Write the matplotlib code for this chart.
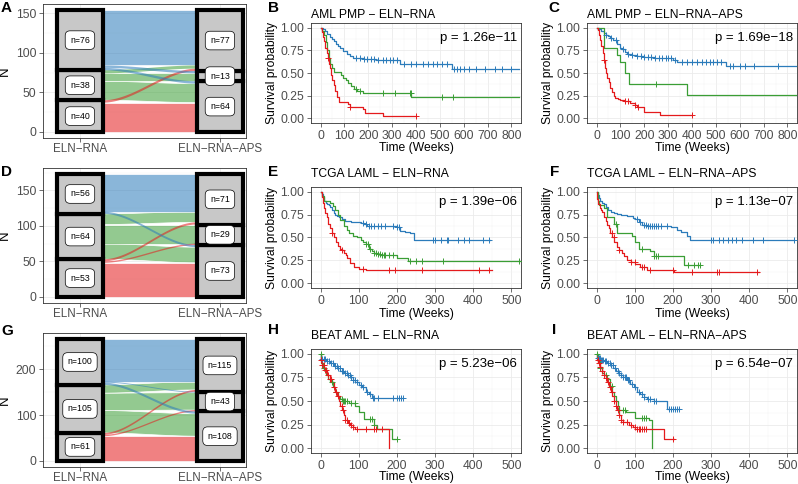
import numpy as np
import matplotlib
matplotlib.use("Agg")
import matplotlib.pyplot as plt
from matplotlib.patches import Rectangle, Polygon

plt.rcParams['font.family'] = ['Liberation Sans', 'DejaVu Sans']

# ---------------- data ----------------
groups = ["Adverse", "Intermediate", "Favorable"]          # bottom-to-top stacking
group_colors = {"Adverse": "#E41A1C", "Intermediate": "#3A9E35", "Favorable": "#2B7BBA"}
alluvial_xlabels = ["ELN\u2212RNA", "ELN\u2212RNA\u2212APS"]

# flows[i][j]: patients from ELN-RNA group i to ELN-RNA-APS group j (order as in `groups`)
flows_A = [[37, 0, 3], [24, 10, 4], [3, 3, 70]]
flows_D = [[48, 2, 3], [22, 27, 15], [3, 0, 53]]
flows_G = [[54, 3, 4], [49, 38, 18], [5, 2, 93]]

km_titles = ["AML PMP \u2212 ELN\u2212RNA", "AML PMP \u2212 ELN\u2212RNA\u2212APS",
             "TCGA LAML \u2212 ELN\u2212RNA", "TCGA LAML \u2212 ELN\u2212RNA\u2212APS",
             "BEAT AML \u2212 ELN\u2212RNA", "BEAT AML \u2212 ELN\u2212RNA\u2212APS"]
pvalues = ["p = 1.26e\u221211", "p = 1.69e\u221218", "p = 1.39e\u221206",
           "p = 1.13e\u221207", "p = 5.23e\u221206", "p = 6.54e\u221207"]
surv_ticks = [0, 0.25, 0.5, 0.75, 1.0]
surv_ticklabels = ["0.00", "0.25", "0.50", "0.75", "1.00"]
time_ticks_row1 = [0, 100, 200, 300, 400, 500, 600, 700, 800]
time_ticks_rows23 = [0, 100, 200, 300, 400, 500]

# each curve: (step times, survival, end time, censor times)
# --- B: AML PMP ELN-RNA
B_fav = ([0, 10, 20, 28, 38, 48, 55, 65, 75, 83, 95, 110, 125, 138, 180, 234, 331, 552],
         [1.0, .98, .96, .93, .90, .87, .85, .82, .80, .78, .74, .71, .69, .665, .655, .645, .595, .54],
         830, [150, 165, 180, 195, 210, 225, 240, 260, 275, 290, 305, 320, 350, 380, 400, 430, 450, 470,
               490, 510, 530, 560, 570, 585, 600, 620, 650, 690, 730, 760, 800])
B_int = ([0, 8, 15, 22, 28, 35, 41, 48, 55, 85, 95, 105, 115, 128, 140, 152, 179, 379],
         [1.0, .96, .92, .84, .75, .67, .60, .55, .51, .48, .45, .42, .39, .36, .32, .30, .28, .235],
         830, [150, 165, 262, 310, 375, 378, 510, 555])
B_adv = ([0, 5, 10, 15, 20, 25, 30, 35, 40, 45, 50, 55, 62, 70, 76, 117, 124, 179, 186, 262],
         [1.0, .95, .90, .85, .78, .72, .67, .60, .55, .48, .42, .37, .30, .24, .18, .155, .13, .10, .065, .03],
         400, [30, 125, 400])
# --- C: AML PMP ELN-RNA-APS
C_fav = ([0, 10, 20, 30, 40, 50, 58, 70, 86, 100, 107, 118, 128, 150, 170, 200, 239, 322, 336, 544],
         [1.0, .98, .96, .94, .92, .91, .89, .86, .82, .78, .76, .73, .71, .70, .69, .68, .665, .645, .62, .575],
         840, [40, 60, 80, 110, 130, 150, 170, 185, 200, 215, 230, 245, 260, 275, 290, 300, 310, 330, 360,
               380, 400, 420, 440, 460, 475, 490, 505, 520, 560, 570, 600, 620, 660, 760])
C_int = ([0, 30, 86, 100, 120, 135, 377],
         [1.0, .77, .70, .62, .50, .38, .26],
         840, [250])
C_adv = ([0, 5, 10, 15, 20, 25, 30, 35, 40, 45, 51, 58, 65, 72, 79, 90, 100, 115, 141, 160, 170, 197, 266],
         [1.0, .97, .92, .86, .80, .72, .64, .56, .50, .45, .40, .34, .29, .25, .22, .21, .20, .19, .17, .15, .13, .07, .04],
         400, [30, 120, 130, 160, 175, 400])
# --- E: TCGA LAML ELN-RNA
E_fav = ([0, 3, 6, 9, 13, 17, 22, 26, 30, 35, 39, 44, 48, 56, 65, 80, 105, 114, 122, 200, 209, 222, 235, 244],
         [1.0, .97, .94, .90, .88, .87, .85, .83, .80, .77, .75, .73, .72, .70, .68, .67, .66, .645, .63, .61, .57, .56, .55, .47],
         445, [110, 118, 128, 132, 140, 150, 158, 170, 190, 200, 205, 295, 300, 315, 330, 335, 360, 375, 390, 425, 440])
E_int = ([0, 4, 8, 26, 32, 39, 45, 52, 61, 68, 74, 85, 96, 105, 112, 118, 126, 135, 140, 150, 157, 200, 228],
         [1.0, .95, .90, .88, .84, .80, .74, .69, .62, .58, .55, .52, .50, .47, .45, .43, .38, .35, .33, .32, .31, .28, .245],
         522, [120, 125, 130, 140, 145, 150, 155, 160, 165, 170, 180, 190, 235, 250, 265, 320, 520])
E_adv = ([0, 3, 6, 9, 12, 16, 20, 25, 30, 35, 40, 45, 50, 55, 61, 66, 70, 78, 87, 100, 120],
         [1.0, .94, .88, .82, .77, .72, .65, .60, .55, .50, .45, .41, .38, .36, .33, .31, .28, .22, .18, .16, .145],
         450, [30, 55, 110, 180, 195, 265, 415, 440])
# --- F: TCGA LAML ELN-RNA-APS
F_fav = ([0, 3, 6, 10, 15, 19, 25, 30, 37, 45, 54, 65, 80, 95, 102, 110, 120, 133, 194, 210, 220, 237, 246],
         [1.0, .96, .93, .90, .88, .86, .83, .80, .78, .77, .76, .74, .73, .71, .70, .67, .64, .62, .61, .58, .56, .52, .475],
         517, [105, 115, 125, 130, 135, 140, 145, 150, 155, 160, 170, 185, 300, 305, 320, 330, 345, 355, 365,
               380, 410, 435, 517])
F_int = ([0, 3, 6, 19, 28, 45, 54, 93, 100, 111, 141, 150, 229],
         [1.0, .90, .85, .82, .72, .65, .55, .52, .45, .38, .35, .30, .20],
         272, [50, 120, 150, 155, 160, 240, 255, 265, 272])
F_adv = ([0, 2, 5, 8, 12, 15, 20, 24, 28, 32, 36, 41, 47, 54, 60, 67, 73, 80, 90, 102, 115, 133, 202],
         [1.0, .92, .86, .82, .80, .78, .72, .68, .64, .60, .55, .50, .45, .40, .36, .33, .30, .26, .23, .21, .18, .15, .125],
         425, [40, 45, 60, 90, 100, 120, 125, 140, 200, 250, 315, 320, 420])
# --- H: BEAT AML ELN-RNA
H_fav = ([0, 1, 15, 26, 35, 43, 52, 61, 70, 78, 85, 91, 100, 109, 118, 126, 135],
         [1.0, .94, .92, .90, .87, .85, .82, .80, .77, .75, .72, .70, .67, .65, .60, .57, .53],
         217, [5, 8, 12, 18, 22, 28, 32, 38, 42, 46, 50, 55, 58, 63, 68, 72, 76, 80, 86, 90, 95, 105, 112,
               122, 130, 138, 140, 150, 190, 200, 205, 210, 217])
H_int = ([0, 2, 6, 13, 20, 26, 32, 39, 45, 52, 60, 74, 91, 100, 113, 139, 148, 187],
         [1.0, .90, .85, .77, .73, .70, .65, .60, .55, .52, .50, .48, .45, .38, .31, .25, .20, .10],
         200, [0, 10, 30, 40, 55, 60, 62, 65, 70, 80, 90, 130, 135, 140, 200])
H_adv = ([0, 1, 5, 10, 17, 24, 30, 35, 39, 44, 48, 52, 57, 61, 65, 72, 78, 85, 91, 178],
         [1.0, .93, .88, .83, .77, .73, .70, .65, .60, .55, .50, .45, .40, .35, .30, .27, .25, .22, .20, 0.0],
         178, [2, 5, 8, 12, 15, 20, 25, 28, 35, 40, 45, 55, 60, 65, 70, 75, 80, 85, 95, 120, 140, 145, 160])
# --- I: BEAT AML ELN-RNA-APS
I_fav = ([0, 1, 10, 19, 28, 37, 44, 50, 57, 63, 70, 80, 88, 97, 106, 115, 123, 132, 150, 184],
         [1.0, .95, .93, .92, .90, .88, .85, .82, .80, .78, .75, .72, .68, .65, .60, .57, .54, .52, .50, .42],
         215, [3, 6, 9, 12, 15, 18, 22, 25, 30, 34, 38, 42, 48, 55, 60, 65, 70, 75, 78, 82, 86, 92, 100, 110,
               120, 125, 135, 140, 150, 155, 190, 195, 200, 205, 210, 215])
I_int = ([0, 3, 8, 14, 20, 28, 35, 41, 46, 50, 55, 58, 76, 102, 137, 145],
         [1.0, .92, .85, .80, .77, .73, .66, .60, .55, .50, .45, .40, .38, .32, .30, 0.0],
         145, [0, 10, 25, 40, 60, 70, 75, 120, 125, 130])
I_adv = ([0, 1, 5, 10, 15, 19, 24, 28, 32, 37, 41, 45, 50, 54, 58, 63, 70, 84, 95, 102, 176],
         [1.0, .93, .90, .86, .82, .78, .74, .70, .65, .60, .55, .50, .45, .40, .35, .30, .28, .25, .22, .20, .10],
         202, [3, 6, 10, 15, 20, 25, 30, 35, 40, 45, 50, 55, 60, 65, 70, 80, 90, 100, 105, 110, 115, 120, 125, 130, 200])

# ---------------- layout helpers ----------------
W, H = 798, 484
fig = plt.figure(figsize=(W / 100, H / 100), dpi=100)
TICK_COL = "#4D4D4D"
GRID_MAJ = "#EBEBEB"
GRID_MIN = "#F3F3F3"
FS = 8.7


def add_ax(x0, y0, x1, y1):
    return fig.add_axes([x0 / W, 1 - y1 / H, (x1 - x0) / W, (y1 - y0) / H])


def ftext(x, y, s, **kw):
    fig.text(x / W, 1 - y / H, s, **kw)


def style_frame(ax):
    for sp in ax.spines.values():
        sp.set_color("#333333")
        sp.set_linewidth(0.6)
    ax.tick_params(which="major", length=2.75, width=0.5, color="#333333",
                   labelsize=FS, labelcolor=TICK_COL, pad=2)
    ax.tick_params(which="minor", length=0)
    ax.set_axisbelow(True)


def draw_alluvial(ax, flows, yticks, yminor):
    F = np.array(flows)
    left = F.sum(axis=1)
    right = F.sum(axis=0)
    total = left.sum()
    w = 1 / 3
    lcum = np.concatenate([[0], np.cumsum(left)])
    rcum = np.concatenate([[0], np.cumsum(right)])
    s = np.linspace(0, 1, 80)
    sm = s * s * (3 - 2 * s)
    xa, xb = 1 + w / 2, 2 - w / 2
    xs = xa + s * (xb - xa)
    polys_big, polys_thin = [], []
    for i in range(3):
        for j in range(3):
            n = F[i, j]
            if n == 0:
                continue
            yl0 = lcum[i] + F[i, :j].sum()
            yr0 = rcum[j] + F[:i, j].sum()
            lo = yl0 + (yr0 - yl0) * sm
            hi = lo + n
            poly = np.concatenate([np.column_stack([xs, lo]),
                                   np.column_stack([xs[::-1], hi[::-1]])])
            fc = matplotlib.colors.to_rgba(group_colors[groups[i]], 0.55)
            (polys_big if n >= 8 else polys_thin).append((poly, fc))
    for poly, fc in polys_big:
        ax.add_patch(Polygon(poly, closed=True, facecolor=fc, edgecolor="white",
                             lw=0.5, zorder=2))
    for poly, fc in polys_thin:
        ax.add_patch(Polygon(poly, closed=True, facecolor=fc, edgecolor="none", zorder=2.5))
    for x, counts, cum in [(1, left, lcum), (2, right, rcum)]:
        for k in range(3):
            ax.add_patch(Rectangle((x - w / 2, cum[k]), w, counts[k], facecolor="#C8C8C8",
                                   edgecolor="black", lw=3, zorder=3))
        for k in range(3):
            ax.text(x, cum[k] + counts[k] / 2, f"n={counts[k]}", ha="center", va="center",
                    fontsize=6.3, zorder=5,
                    bbox=dict(boxstyle="round,pad=0.55,rounding_size=0.55", fc="white",
                              ec="black", lw=0.5))
    ax.set_xlim(0.736, 2.186)
    ax.set_ylim(-0.05 * total, 1.05 * total)
    ax.set_xticks([1, 2])
    ax.set_xticklabels(alluvial_xlabels)
    ax.set_yticks(yticks)
    ax.set_yticks(yminor, minor=True)
    ax.grid(which="major", color=GRID_MAJ, lw=0.6)
    ax.grid(which="minor", axis="y", color=GRID_MIN, lw=0.35)
    style_frame(ax)
    ax.tick_params(axis="x", which="major", labelsize=8.4, pad=1.2)


def draw_km(ax, curves, xticks, xlim):
    for (t, sv, end, cens), g in zip(curves, ["Favorable", "Intermediate", "Adverse"]):
        col = group_colors[g]
        x = list(t) + [end]
        y = list(sv) + [sv[-1]]
        ax.step(x, y, where="post", color=col, lw=0.9, zorder=3)
        ta = np.array(t)
        sa = np.array(sv)
        idx = np.searchsorted(ta, np.array(cens), side="right") - 1
        ax.plot(cens, sa[idx], ls="none", marker="+", ms=4.5, mew=0.7, color=col, zorder=4)
    ax.set_xlim(*xlim)
    ax.set_ylim(-0.05, 1.05)
    ax.set_xticks(xticks)
    ax.set_xticklabels([str(v) for v in xticks])
    step = xticks[1] - xticks[0]
    ax.set_xticks([v + step / 2 for v in xticks if v + step / 2 < xlim[1]], minor=True)
    ax.set_yticks(surv_ticks)
    ax.set_yticklabels(surv_ticklabels)
    ax.set_yticks([0.125, 0.375, 0.625, 0.875], minor=True)
    ax.grid(which="major", color=GRID_MAJ, lw=0.6)
    ax.grid(which="minor", color=GRID_MIN, lw=0.35)
    style_frame(ax)


# ---------------- alluvial panels ----------------
rows_allu = [(4, 138), (168, 303), (333, 467)]
allu_data = [(flows_A, [0, 50, 100, 150], [25, 75, 125]),
             (flows_D, [0, 50, 100, 150], [25, 75, 125, 175]),
             (flows_G, [0, 100, 200], [50, 150, 250])]
for (y0, y1), (fl, yt, ym) in zip(rows_allu, allu_data):
    ax = add_ax(43, y0, 246, y1)
    draw_alluvial(ax, fl, yt, ym)
    ftext(5, (y0 + y1) / 2, "N", rotation=90, ha="center", va="center", fontsize=9.5)

# ---------------- KM panels ----------------
rows_km = [(23, 123), (187, 288), (349, 453)]
cols_km = [(311, 521), (587, 797)]
km_curves = [[B_fav, B_int, B_adv], [C_fav, C_int, C_adv],
             [E_fav, E_int, E_adv], [F_fav, F_int, F_adv],
             [H_fav, H_int, H_adv], [I_fav, I_int, I_adv]]
title_y = [15, 174, 336]
xlabel_y = [148, 314, 477]
k = 0
for r, (y0, y1) in enumerate(rows_km):
    xt = time_ticks_row1 if r == 0 else time_ticks_rows23
    xl = (-40, 840) if r == 0 else (-25, 525)
    for c, (x0, x1) in enumerate(cols_km):
        ax = add_ax(x0, y0, x1, y1)
        draw_km(ax, km_curves[k], xt, xl)
        ftext(x0, title_y[r], km_titles[k], ha="left", va="center", fontsize=FS)
        ftext(x1 - 4, y0 + 15, pvalues[k], ha="right", va="center", fontsize=9.5)
        ftext(x0 - 39, (y0 + y1) / 2, "Survival probability", rotation=90,
              ha="center", va="center", fontsize=FS)
        ftext((x0 + x1) / 2, xlabel_y[r], "Time (Weeks)", ha="center", va="center", fontsize=FS)
        k += 1

# ---------------- panel letters ----------------
letters = [("A", 1, 8), ("B", 268, 8), ("C", 548, 8),
           ("D", 1, 172), ("E", 268, 172), ("F", 550, 172),
           ("G", 1, 331), ("H", 268, 330), ("I", 552, 330)]
for s, x, y in letters:
    ftext(x, y, s, ha="left", va="center", fontsize=11, fontweight="bold")

fig.savefig("out.png", dpi=100)
